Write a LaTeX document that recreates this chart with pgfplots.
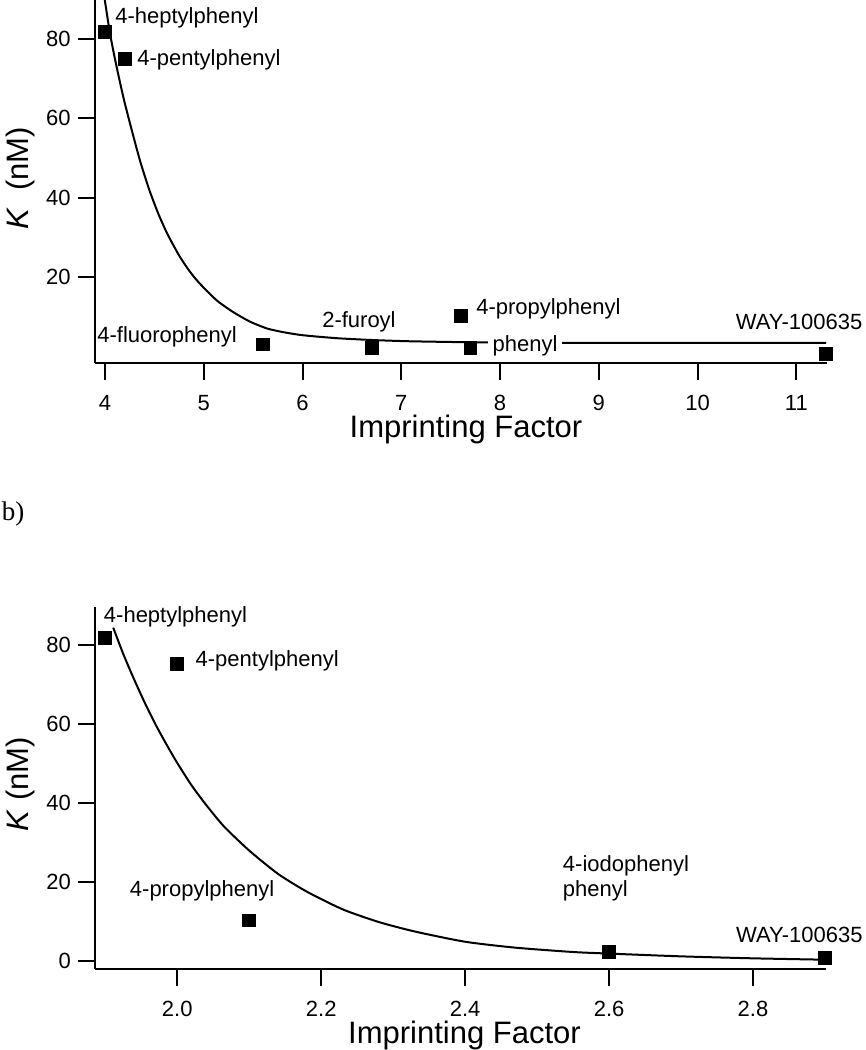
\documentclass[border=0pt]{standalone}
\usepackage{fontspec}
\setmainfont{Liberation Sans}
\newfontfamily\serifb{Liberation Serif}
\usepackage{pgfplots}
\pgfplotsset{compat=1.18}
\pgfplotsset{
  common/.style={
    scale only axis,
    anchor=south west,
    axis x line*=bottom,
    axis y line*=left,
    axis line style={-, line width=1pt},
    tick style={line width=1pt, black},
    tick align=outside,
    major tick length=8.5pt,
    clip mode=individual,
    /pgf/number format/assume math mode=true,
    tick label style={font=\fontsize{11}{13}\selectfont},
    xticklabel style={yshift=-4pt},
    label style={font=\fontsize{15.5}{18}\selectfont},
    xlabel style={anchor=base},
    ylabel style={anchor=center},
  },
}
\tikzset{lbl/.style={inner sep=0pt, font=\fontsize{11}{13}\selectfont}}
\pgfplotstableread{
x y
4.0 81.8
4.2 75.0
5.6 3.1
6.7 2.2
7.7 2.3
7.6 10.2
11.3 0.8
}\toppts
\pgfplotstableread{
x y
1.9 81.7
2.0 75.2
2.1 10.2
2.6 2.2
2.9 0.7
}\botpts
\begin{document}
\begin{tikzpicture}
\useasboundingbox (0pt,0pt) rectangle (433pt,525pt);
\node[anchor=west, inner sep=0pt, font=\serifb\fontsize{13.5}{16}\selectfont] at (0.8pt,268pt) {b)};

\begin{axis}[common,
  at={(47.35pt,343.5pt)}, width=366.15pt, height=181.5pt,
  xmin=3.896, xmax=11.31, ymin=-1.59, ymax=89.8,
  xtick={4,5,6,7,8,9,10,11}, ytick={20,40,60,80},
  xlabel={Imprinting Factor}, ylabel={\textit{K}\ \ (nM)},
  xlabel style={at={(axis description cs:0.507,-0.2066)}},
  ylabel style={at={(axis description cs:-0.102,0.508)}},
]
\addplot[black, line width=1pt, mark=none, smooth, tension=0.4] coordinates {
(3.99,91.5) (4.0,89.5) (4.05,81.5) (4.1,75.1) (4.15,69.3) (4.2,63.9) (4.28,56.2)
(4.36,48.9) (4.45,41.9) (4.54,36.0) (4.63,31.0) (4.75,25.5) (4.86,21.4)
(4.96,18.4) (5.13,14.2) (5.3,11.2) (5.47,8.8) (5.64,7.1) (5.8,6.2) (5.97,5.5)
(6.15,5.05) (6.38,4.6) (6.7,4.2) (7.05,3.9) (7.5,3.7) (8.0,3.55) (8.5,3.5) (9.5,3.45) (11.3,3.45)
};
\addplot[only marks, mark=square*, mark size=3.2pt, mark options={fill=black, draw=black}] table[x=x,y=y] {\toppts};
\node[lbl, anchor=west] at (axis cs:4.101,85.3) {4-heptylphenyl};
\node[lbl, anchor=west] at (axis cs:4.324,74.7) {4-pentylphenyl};
\node[lbl, anchor=west] at (axis cs:3.919,4.96) {4-fluorophenyl};
\node[lbl, anchor=west] at (axis cs:6.196,8.8) {2-furoyl};
\node[lbl, anchor=west] at (axis cs:7.755,12.0) {4-propylphenyl};
\node[lbl, anchor=west, fill=white, inner xsep=2.5pt] at (axis cs:7.87,2.69) {phenyl};
\node[lbl, anchor=east] at (axis cs:11.672,8.74) {WAY-100635};
\end{axis}

\begin{axis}[common,
  at={(47.5pt,40.35pt)}, width=365.5pt, height=181.3pt,
  xmin=1.8857, xmax=2.9014, ymin=-2.18, ymax=89.7,
  xtick={2.0,2.2,2.4,2.6,2.8}, ytick={0,20,40,60,80},
  xticklabel style={/pgf/number format/fixed, /pgf/number format/fixed zerofill, /pgf/number format/precision=1},
  xlabel={Imprinting Factor}, ylabel={\textit{K} (nM)},
  xlabel style={at={(axis description cs:0.5055,-0.2046)}},
  ylabel style={at={(axis description cs:-0.1026,0.511)}},
]
\addplot[black, line width=1pt, mark=none, smooth, tension=0.4] coordinates {
(1.911,84.4) (1.925,77.7) (1.94,71.3) (1.955,65.3) (1.97,59.8) (1.985,54.8)
(2.0,50.1) (2.02,44.4) (2.04,39.5) (2.065,34.0) (2.1,27.9) (2.14,22.0)
(2.18,17.5) (2.23,13.0) (2.28,9.8) (2.33,7.4) (2.4,4.8) (2.47,3.3) (2.55,2.2)
(2.6,1.8) (2.7,1.1) (2.8,0.6) (2.9,0.25)
};
\addplot[only marks, mark=square*, mark size=3.2pt, mark options={fill=black, draw=black}] table[x=x,y=y] {\botpts};
\node[lbl, anchor=west] at (axis cs:1.8976,87.1) {4-heptylphenyl};
\node[lbl, anchor=west] at (axis cs:2.025,76.0) {4-pentylphenyl};
\node[lbl, anchor=west] at (axis cs:1.9337,17.7) {4-propylphenyl};
\node[lbl, anchor=west] at (axis cs:2.5354,24.0) {4-iodophenyl};
\node[lbl, anchor=west] at (axis cs:2.5354,17.7) {phenyl};
\node[lbl, anchor=east] at (axis cs:2.9528,6.5) {WAY-100635};
\end{axis}
\end{tikzpicture}
\end{document}
